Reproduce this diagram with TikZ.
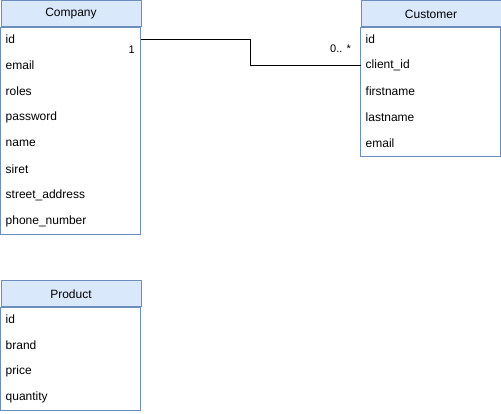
\documentclass[tikz,border=0pt]{standalone}
\usepackage{fontspec}
\setmainfont{Liberation Sans}
\definecolor{hdrfill}{HTML}{DAE8FC}
\definecolor{hdrline}{HTML}{6C8EBF}
\begin{document}
\begin{tikzpicture}[x=1pt,y=-1pt,
  every node/.style={font=\fontsize{12}{14}\selectfont},
  hdr/.style={draw=hdrline, fill=hdrfill, line width=1pt, minimum width=140pt, minimum height=26pt, inner sep=0pt, anchor=north west},
  fld/.style={minimum width=140pt, minimum height=26pt, inner xsep=5pt, inner ysep=0pt, text width=130pt, align=left, anchor=north west},
  outline/.style={draw=hdrline, line width=1pt},
  conn/.style={draw=black, line width=1pt},
  mult/.style={font=\fontsize{11}{13}\selectfont, inner sep=0pt}]
\useasboundingbox (0,0) rectangle (501,414);
\fill[white] (0,0) rectangle (501,414);

% Company
\node[hdr] (company) at (0.5,0.5) {Company};
\node[fld] (company-id) at (0.5,26.5) {id};
\node[fld] (company-email) at (0.5,52.5) {email};
\node[fld] (company-roles) at (0.5,78.5) {roles};
\node[fld] (company-password) at (0.5,104.5) {password};
\node[fld] (company-name) at (0.5,130.5) {name};
\node[fld] (company-siret) at (0.5,156.5) {siret};
\node[fld] (company-street) at (0.5,182.5) {street\_address};
\node[fld] (company-phone) at (0.5,208.5) {phone\_number};
\draw[outline] (company.south west) rectangle (company-phone.south east);

% Customer
\node[hdr] (customer) at (360.5,0.5) {Customer};
\node[fld] (customer-id) at (360.5,26.5) {id};
\node[fld] (customer-client) at (360.5,52.5) {client\_id};
\node[fld] (customer-first) at (360.5,78.5) {firstname};
\node[fld] (customer-last) at (360.5,104.5) {lastname};
\node[fld] (customer-email) at (360.5,130.5) {email};
\draw[outline] (customer.south west) rectangle (customer-email.south east);

% Product
\node[hdr] (product) at (0.5,280.5) {Product};
\node[fld] (product-id) at (0.5,306.5) {id};
\node[fld] (product-brand) at (0.5,332.5) {brand};
\node[fld] (product-price) at (0.5,358.5) {price};
\node[fld] (product-qty) at (0.5,384.5) {quantity};
\draw[outline] (product.south west) rectangle (product-qty.south east);

% Relation
\draw[conn] (company-id.east) -- (250.5,0 |- company-id.east) |- (customer-client.west);
\node[mult, anchor=east] (m1) at (135,50) {1};
\node[mult, anchor=east] (m2) at (351,49) {0.. *};
\end{tikzpicture}
\end{document}
